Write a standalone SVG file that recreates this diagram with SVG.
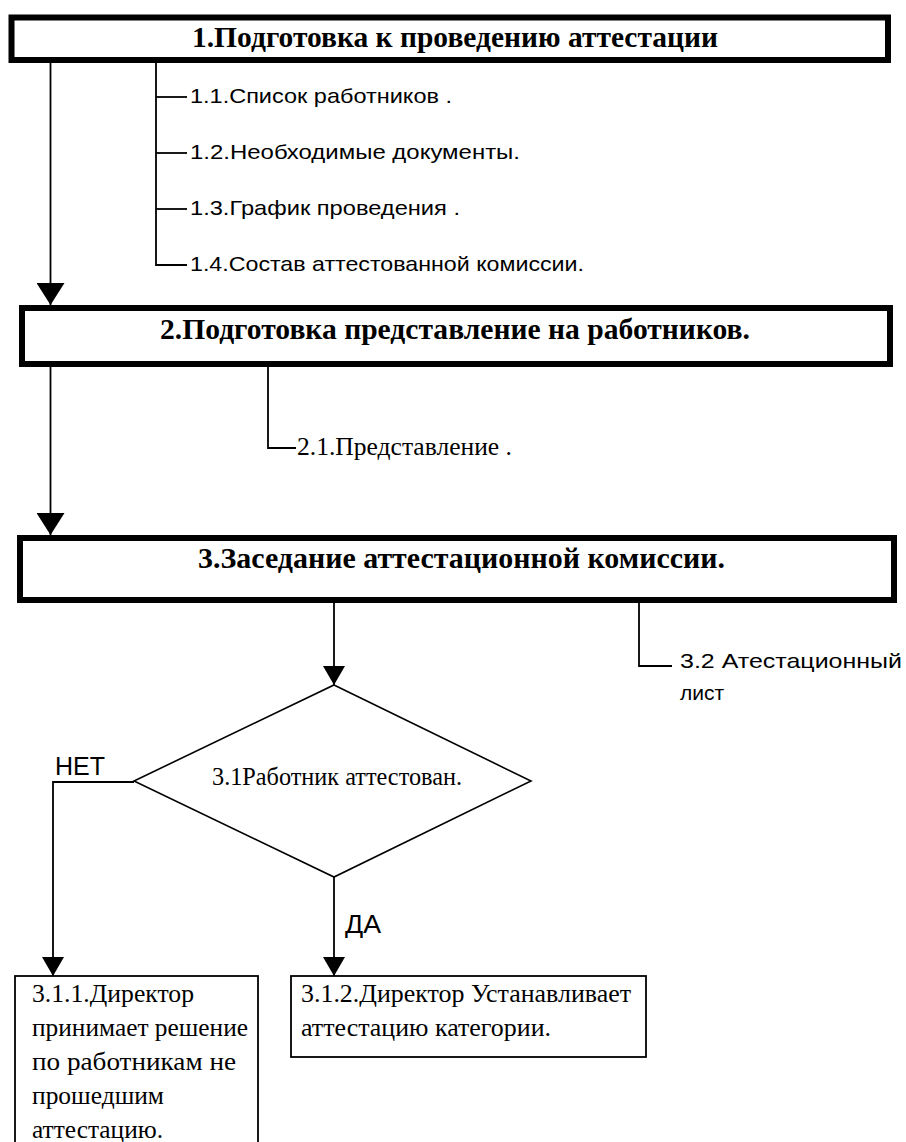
<svg xmlns="http://www.w3.org/2000/svg" width="906" height="1142" viewBox="0 0 906 1142">
<style>
.bg{fill:#fff}
.main{fill:#fff;stroke:#000;stroke-width:6}
.box{fill:#fff;stroke:#000;stroke-width:1.8}
.dia{fill:#fff;stroke:#000;stroke-width:1.6}
.ln{fill:none;stroke:#000;stroke-width:1.8}
.title{font-family:"Liberation Serif","Times New Roman",serif;font-weight:bold;font-size:29px;fill:#000}
.serif{font-family:"Liberation Serif","Times New Roman",serif;font-size:24.5px;fill:#000}
.sans{font-family:"Liberation Sans",Arial,sans-serif;font-size:21px;fill:#000}
.lbl{font-family:"Liberation Sans",Arial,sans-serif;font-size:25px;fill:#000}
</style>
<defs>
<marker id="big" markerUnits="userSpaceOnUse" markerWidth="22" markerHeight="28" refX="22" refY="14" orient="auto"><path d="M0,0 L22,14 L0,28 z" fill="#000"/></marker>
<marker id="small" markerUnits="userSpaceOnUse" markerWidth="19" markerHeight="22" refX="19" refY="11" orient="auto"><path d="M0,0 L19,11 L0,22 z" fill="#000"/></marker>
</defs>
<rect class="bg" x="0" y="0" width="906" height="1142"/>

<g id="connectors">
<line class="ln" x1="50.5" y1="60" x2="50.5" y2="305" marker-end="url(#big)"/>
<line class="ln" x1="50.5" y1="364" x2="50.5" y2="535" marker-end="url(#big)"/>
<polyline class="ln" points="156,60 156,265 187,265"/>
<line class="ln" x1="156" y1="97" x2="187" y2="97"/>
<line class="ln" x1="156" y1="153" x2="187" y2="153"/>
<line class="ln" x1="156" y1="209" x2="187" y2="209"/>
<polyline class="ln" points="268,364 268,448 296,448"/>
<line class="ln" x1="334" y1="600" x2="334" y2="685" marker-end="url(#small)"/>
<polyline class="ln" points="639,600 639,666 672,666"/>
<polyline class="ln" points="134,782 53,782 53,976" marker-end="url(#small)"/>
<line class="ln" x1="334" y1="877" x2="334" y2="976" marker-end="url(#small)"/>
</g>

<g id="node1">
<rect class="main" x="11.5" y="17.5" width="876.5" height="42.5"/>
<text class="title" x="192" y="47" textLength="526" lengthAdjust="spacingAndGlyphs">1.Подготовка к проведению аттестации</text>
</g>
<g id="node1-1"><text class="sans" x="190" y="103" textLength="262" lengthAdjust="spacingAndGlyphs">1.1.Список работников .</text></g>
<g id="node1-2"><text class="sans" x="190" y="159" textLength="330" lengthAdjust="spacingAndGlyphs">1.2.Необходимые документы.</text></g>
<g id="node1-3"><text class="sans" x="190" y="215" textLength="270" lengthAdjust="spacingAndGlyphs">1.3.График проведения .</text></g>
<g id="node1-4"><text class="sans" x="190" y="271" textLength="394" lengthAdjust="spacingAndGlyphs">1.4.Состав аттестованной комиссии.</text></g>

<g id="node2">
<rect class="main" x="22" y="308" width="868" height="56"/>
<text class="title" x="160" y="339" textLength="590" lengthAdjust="spacingAndGlyphs">2.Подготовка представление на работников.</text>
</g>
<g id="node2-1"><text class="serif" x="297" y="455" textLength="215" lengthAdjust="spacingAndGlyphs">2.1.Представление .</text></g>

<g id="node3">
<rect class="main" x="20" y="538" width="874" height="62"/>
<text class="title" x="198" y="568" textLength="527" lengthAdjust="spacingAndGlyphs">3.Заседание аттестационной комиссии.</text>
</g>
<g id="node3-2">
<text class="sans" x="680" y="668" textLength="222" lengthAdjust="spacingAndGlyphs">3.2 Атестационный</text>
<text class="sans" x="680" y="700">лист</text>
</g>

<g id="node3-1">
<polygon class="dia" points="334,685 531,781 334,877 134,781"/>
<text class="serif" x="212" y="785" textLength="250" lengthAdjust="spacingAndGlyphs">3.1Работник аттестован.</text>
</g>
<g id="label-net"><text class="lbl" x="55" y="775" textLength="50" lengthAdjust="spacingAndGlyphs">НЕТ</text></g>
<g id="label-da"><text class="lbl" x="345" y="933" textLength="36" lengthAdjust="spacingAndGlyphs">ДА</text></g>

<g id="node3-1-1">
<rect class="box" x="15" y="976" width="243" height="180"/>
<text class="serif" x="32" y="1002" textLength="162" lengthAdjust="spacingAndGlyphs">3.1.1.Директор</text>
<text class="serif" x="32" y="1036" textLength="216" lengthAdjust="spacingAndGlyphs">принимает решение</text>
<text class="serif" x="32" y="1070" textLength="204" lengthAdjust="spacingAndGlyphs">по работникам не</text>
<text class="serif" x="32" y="1104" textLength="132" lengthAdjust="spacingAndGlyphs">прошедшим</text>
<text class="serif" x="32" y="1138" textLength="131" lengthAdjust="spacingAndGlyphs">аттестацию.</text>
</g>
<g id="node3-1-2">
<rect class="box" x="291" y="976" width="355" height="81"/>
<text class="serif" x="301" y="1002" textLength="330" lengthAdjust="spacingAndGlyphs">3.1.2.Директор Устанавливает</text>
<text class="serif" x="301" y="1036" textLength="250" lengthAdjust="spacingAndGlyphs">аттестацию категории.</text>
</g>
</svg>
